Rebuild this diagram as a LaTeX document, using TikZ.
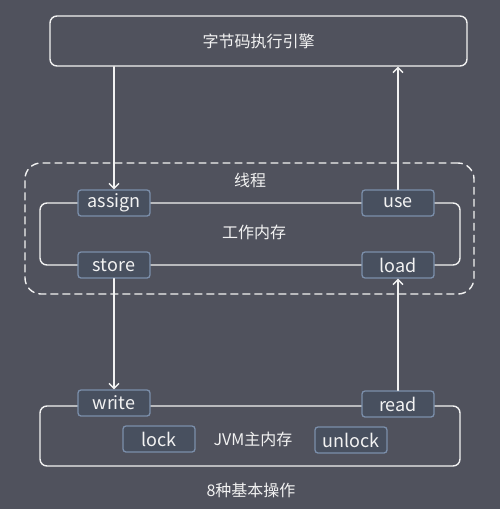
\documentclass[tikz,border=0pt]{standalone}
\usepackage{fontspec}
\newfontfamily\cjk{Noto Sans CJK SC}
\usetikzlibrary{arrows.meta,positioning}

\begin{document}
\begin{tikzpicture}[
    x=1pt,y=-1pt,
    line cap=round,
    every node/.style={font=\cjk\fontsize{16}{18}\selectfont,text=linecolor},
    %styles
    big box/.style={draw=linecolor,line width=1.4pt,rounded corners=7pt,minimum width=420pt,inner sep=0pt},
    thread box/.style={draw=linecolor,line width=1.4pt,dash pattern=on 7pt off 5pt,rounded corners=16pt,inner sep=0pt},
    op box/.style={draw=opframe,fill=opfill,line width=1.3pt,rounded corners=3pt,minimum width=72pt,minimum height=26pt,inner sep=0pt,font=\cjk\fontsize{18}{20}\selectfont},
    flow/.style={draw=linecolor,line width=1.4pt,-{Straight Barb[length=5pt,width=10pt]}},
  ]
  %colors
  \definecolor{bgcolor}{HTML}{50525D}
  \definecolor{linecolor}{HTML}{F2F2F2}
  \definecolor{opframe}{HTML}{7B8FAB}
  \definecolor{opfill}{HTML}{48505F}
  \fill[bgcolor] (0,0) rectangle (500,509);
  \useasboundingbox (0,0) rectangle (500,509);

  % execution engine
  \node[big box,minimum width=417pt,minimum height=50pt] (engine) at (258.5,41) {字节码执行引擎};

  % thread with its working memory
  \node[thread box,minimum width=449pt,minimum height=131pt] (thread) at (249.5,228.5) {};
  \node (threadlabel) at (250,180) {线程};
  \node[big box,minimum height=62pt] (work) at (250,234) {};
  \node (worklabel) at (254,232) {工作内存};
  \node[op box] (assign) at (114,203) {assign};
  \node[op box] (use) at (398,203) {use};
  \node[op box] (store) at (114,265) {store};
  \node[op box] (load) at (398,265) {load};

  % main memory
  \node[big box,minimum height=60pt] (main) at (250,436) {};
  \node (mainlabel) at (253,439) {JVM主内存};
  \node[op box] (write) at (114,403) {write};
  \node[op box] (read) at (398,404) {read};
  \node[op box] (lock) at (159,439) {lock};
  \node[op box] (unlock) at (351,440) {unlock};
  \node (caption) at (251,490) {8种基本操作};

  % data flow
  \draw[flow] (assign |- engine.south) -- (assign.north);
  \draw[flow] (use.north) -- (use |- engine.south);
  \draw[flow] (store.south) -- (write.north);
  \draw[flow] (read.north) -- (load.south);
\end{tikzpicture}
\end{document}
